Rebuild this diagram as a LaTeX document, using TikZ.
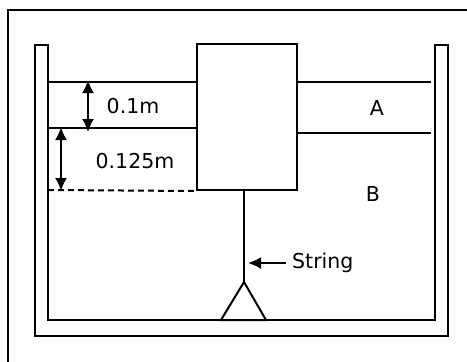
\documentclass[tikz,border=0pt]{standalone}
\usepackage{fontspec}
\setmainfont{DejaVu Sans}
\usetikzlibrary{arrows.meta}
\begin{document}
\begin{tikzpicture}[x=1pt,y=-1pt,
  ln/.style={line width=2pt},
  lbl/.style={font=\fontsize{20.5}{24}\selectfont, inner sep=0pt},
  dim/.style={ln,{Latex[length=13pt,width=12pt]}-{Latex[length=13pt,width=12pt]}},
  ptr/.style={ln,-{Latex[length=13pt,width=12pt]}}]
\useasboundingbox (0,0) rectangle (467,362);
% outer frame
\draw[ln] (8,370) -- (8,10) -- (475,10);
% tank
\draw[ln] (35,45) -- (35,336) -- (448,336) -- (448,45) -- (435,45) -- (435,320) -- (48,320) -- (48,45) -- cycle;
% block
\node[ln, draw, minimum width=100pt, minimum height=146pt, inner sep=0pt] (block) at (247,117) {};
% liquid lines
\coordinate (lt1) at (48,82);  \coordinate (lt2) at (block.west |- 0,82);
\coordinate (li1) at (48,128); \coordinate (li2) at (block.west |- 0,128);
\coordinate (rt1) at (block.east |- 0,82);  \coordinate (rt2) at (431,82);
\coordinate (ri1) at (block.east |- 0,133); \coordinate (ri2) at (431,133);
\coordinate (d1) at (48,190); \coordinate (d2) at (block.south west);
\draw[ln] (lt1) -- (lt2);
\draw[ln] (li1) -- (li2);
\draw[ln] (rt1) -- (rt2);
\draw[ln] (ri1) -- (ri2);
\draw[ln, dash pattern=on 6pt off 4pt] (d1) -- (d2);
% dimension arrows
\coordinate (a1) at (88,80); \coordinate (a2) at (88,132);
\coordinate (b1) at (61,127); \coordinate (b2) at (61,191);
\draw[dim] (a1) -- (a2);
\draw[dim] (b1) -- (b2);
% labels
\node[lbl] (l1) at (133,106) {0.1m};
\node[lbl] (l2) at (135,161) {0.125m};
\node[lbl] (A) at (377,108) {A};
\node[lbl] (B) at (373,194) {B};
% string and anchor
\coordinate (apex) at (244,282);
\node[lbl, anchor=west] (str) at (292,263) {String};
\draw[ln] (block.south -| apex) -- (apex);
\draw[ln] (apex) -- (221,320) -- (266,320) -- cycle;
\coordinate (sp) at (248,263);
\draw[ptr] (str.west) ++(-6pt,0) -- (sp);
\end{tikzpicture}
\end{document}
